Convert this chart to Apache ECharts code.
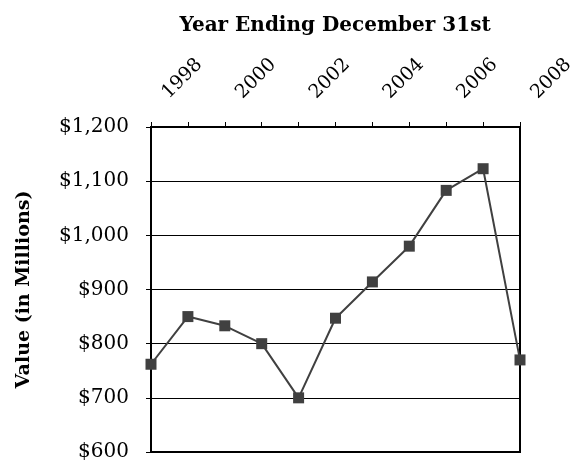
<!DOCTYPE html>
<html>
<head>
<meta charset="utf-8">
<script src="https://cdn.jsdelivr.net/npm/echarts@6/dist/echarts.min.js"></script>
<style>
  html, body { margin: 0; padding: 0; background: #fff; }
  #chart { width: 575px; height: 462px; }
</style>
</head>
<body>
<div id="chart"></div>
<script>
// years along the top axis
var years = ['1998', '1999', '2000', '2001', '2002', '2003', '2004', '2005', '2006', '2007', '2008'];
// value in millions
var values = [762, 850, 833, 800, 700, 847, 914, 980, 1083, 1123, 770];

var font = 'DejaVu Serif';
var myChart = echarts.init(document.getElementById('chart'));

var option = {
    animation: false,
    backgroundColor: '#fff',
    title: {
        text: 'Year Ending December 31st',
        left: 330,
        textAlign: 'center',
        top: 11,
        textStyle: {
            fontFamily: font,
            fontWeight: 'bold',
            fontSize: 20,
            color: '#000'
        }
    },
    grid: {
        left: 151,
        top: 127,
        right: 55,
        bottom: 10,
        outerBoundsMode: 'none',
        show: true,
        borderColor: '#000',
        borderWidth: 2
    },
    xAxis: {
        type: 'category',
        position: 'top',
        boundaryGap: false,
        data: years,
        axisLine: { lineStyle: { color: '#000', width: 2 } },
        axisTick: { interval: 0, length: 5, lineStyle: { color: '#000' } },
        axisLabel: {
            interval: 1,
            rotate: -45,
            align: 'left',
            verticalAlign: 'middle',
            margin: 17,
            padding: [0, 0, 0, 20],
            color: '#000',
            fontFamily: font,
            fontSize: 19
        },
        splitLine: { show: false }
    },
    yAxis: {
        type: 'value',
        min: 600,
        max: 1200,
        interval: 100,
        name: 'Value (in Millions)',
        nameLocation: 'middle',
        nameRotate: 90,
        nameGap: 117,
        nameTextStyle: {
            fontFamily: font,
            fontWeight: 'bold',
            fontSize: 19,
            color: '#000'
        },
        axisLine: { show: true, lineStyle: { color: '#000', width: 2 } },
        axisTick: { show: true, length: 5, lineStyle: { color: '#000' } },
        axisLabel: {
            margin: 22,
            color: '#000',
            fontFamily: font,
            fontSize: 20,
            formatter: function (v) {
                return '$' + v.toLocaleString('en-US');
            }
        },
        splitLine: { lineStyle: { color: '#000', width: 1 } }
    },
    series: [{
        type: 'line',
        data: values,
        symbol: 'rect',
        symbolSize: 11,
        itemStyle: { color: '#404040' },
        lineStyle: { color: '#404040', width: 2 }
    }]
};

myChart.setOption(option);
</script>
</body>
</html>
